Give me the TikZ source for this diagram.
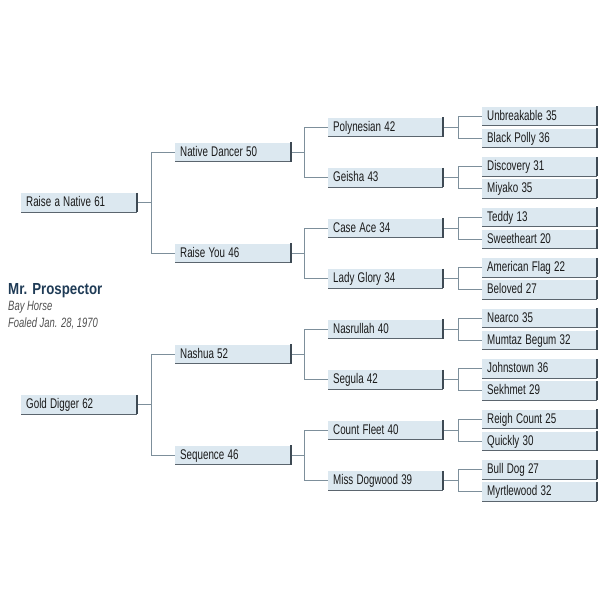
\documentclass[tikz,border=0pt]{standalone}
\usepackage{fontspec}
\usepackage{graphicx}
\setmainfont{Liberation Sans}
\newcommand\narrow[2][0.7]{\scalebox{#1}[1]{#2}}
\definecolor{boxfill}{HTML}{DCE8F0}
\definecolor{shadowc}{HTML}{3E4A54}
\definecolor{linec}{HTML}{7D8F9B}
\definecolor{titlec}{HTML}{1F3B56}
\definecolor{subc}{HTML}{505050}
\definecolor{textc}{HTML}{1A1A1A}
\tikzset{
  horse/.style={rectangle, fill=boxfill, anchor=west, minimum height=19pt,
    inner xsep=5pt, inner ysep=0pt, text width=106pt, align=left,
    text height=10pt, text depth=2pt, font=\fontsize{14}{15}\selectfont, text=textc},
  horsesm/.style={horse, text width=105pt},
  conn/.style={draw=linec, line width=1pt},
  shade/.style={draw=shadowc, line width=2pt},
  shadeb/.style={draw=shadowc!85, line width=1.4pt}
}
\begin{document}
\begin{tikzpicture}[x=1pt,y=-1pt]
\useasboundingbox (0,0) rectangle (600,600);
% title
\node[anchor=base west, inner sep=0pt, text=titlec, font=\bfseries\fontsize{16}{17}\selectfont] (title) at (8,294) {\narrow[0.83]{Mr. Prospector}};
\node[anchor=base west, inner sep=0pt, text=subc, font=\itshape\fontsize{13.5}{14}\selectfont] (bay) at (8,310.5) {\narrow{Bay Horse}};
\node[anchor=base west, inner sep=0pt, text=subc, font=\itshape\fontsize{13.5}{14}\selectfont] (foaled) at (8,327) {\narrow{Foaled Jan. 28, 1970}};
% generation 1
\node[horse] (g1a) at (21,202.5) {\narrow{Raise a Native 61}};
\node[horse] (g1b) at (21,404.5) {\narrow{Gold Digger 62}};
% generation 2
\node[horse] (g2a) at (175,152) {\narrow{Native Dancer 50}};
\node[horse] (g2b) at (175,253) {\narrow{Raise You 46}};
\node[horse] (g2c) at (175,354) {\narrow{Nashua 52}};
\node[horse] (g2d) at (175,455) {\narrow{Sequence 46}};
% generation 3
\node[horsesm] (g3a) at (328,127) {\narrow{Polynesian 42}};
\node[horsesm] (g3b) at (328,177.5) {\narrow{Geisha 43}};
\node[horsesm] (g3c) at (328,228) {\narrow{Case Ace 34}};
\node[horsesm] (g3d) at (328,278.5) {\narrow{Lady Glory 34}};
\node[horsesm] (g3e) at (328,329) {\narrow{Nasrullah 40}};
\node[horsesm] (g3f) at (328,379.5) {\narrow{Segula 42}};
\node[horsesm] (g3g) at (328,430) {\narrow{Count Fleet 40}};
\node[horsesm] (g3h) at (328,480.5) {\narrow{Miss Dogwood 39}};
% generation 4
\node[horsesm] (g4a) at (482,116) {\narrow{Unbreakable 35}};
\node[horsesm] (g4b) at (482,138) {\narrow{Black Polly 36}};
\node[horsesm] (g4c) at (482,166.5) {\narrow{Discovery 31}};
\node[horsesm] (g4d) at (482,188.5) {\narrow{Miyako 35}};
\node[horsesm] (g4e) at (482,217) {\narrow{Teddy 13}};
\node[horsesm] (g4f) at (482,239) {\narrow{Sweetheart 20}};
\node[horsesm] (g4g) at (482,267.5) {\narrow{American Flag 22}};
\node[horsesm] (g4h) at (482,289.5) {\narrow{Beloved 27}};
\node[horsesm] (g4i) at (482,318) {\narrow{Nearco 35}};
\node[horsesm] (g4j) at (482,340) {\narrow{Mumtaz Begum 32}};
\node[horsesm] (g4k) at (482,368.5) {\narrow{Johnstown 36}};
\node[horsesm] (g4l) at (482,390.5) {\narrow{Sekhmet 29}};
\node[horsesm] (g4m) at (482,419) {\narrow{Reigh Count 25}};
\node[horsesm] (g4n) at (482,441) {\narrow{Quickly 30}};
\node[horsesm] (g4o) at (482,469.5) {\narrow{Bull Dog 27}};
\node[horsesm] (g4p) at (482,491.5) {\narrow{Myrtlewood 32}};
% shadows
\foreach \n in {g1a,g1b,g2a,g2b,g2c,g2d,g3a,g3b,g3c,g3d,g3e,g3f,g3g,g3h,g4a,g4b,g4c,g4d,g4e,g4f,g4g,g4h,g4i,g4j,g4k,g4l,g4m,g4n,g4o,g4p}{
  \draw[shadeb] (\n.south west) -- (\n.south east);
  \draw[shade] (\n.north east) -- (\n.south east);
}
% connectors
\foreach \p/\c/\d/\dx in {g1a/g2a/g2b/13, g1b/g2c/g2d/13,
  g2a/g3a/g3b/12, g2b/g3c/g3d/12, g2c/g3e/g3f/12, g2d/g3g/g3h/12,
  g3a/g4a/g4b/14, g3b/g4c/g4d/14, g3c/g4e/g4f/14, g3d/g4g/g4h/14,
  g3e/g4i/g4j/14, g3f/g4k/g4l/14, g3g/g4m/g4n/14, g3h/g4o/g4p/14}{
  \draw[conn] ([xshift=1pt]\p.east) -- ++(\dx,0) coordinate (j);
  \draw[conn] (j) |- (\c.west);
  \draw[conn] (j) |- (\d.west);
}
\end{tikzpicture}
\end{document}
